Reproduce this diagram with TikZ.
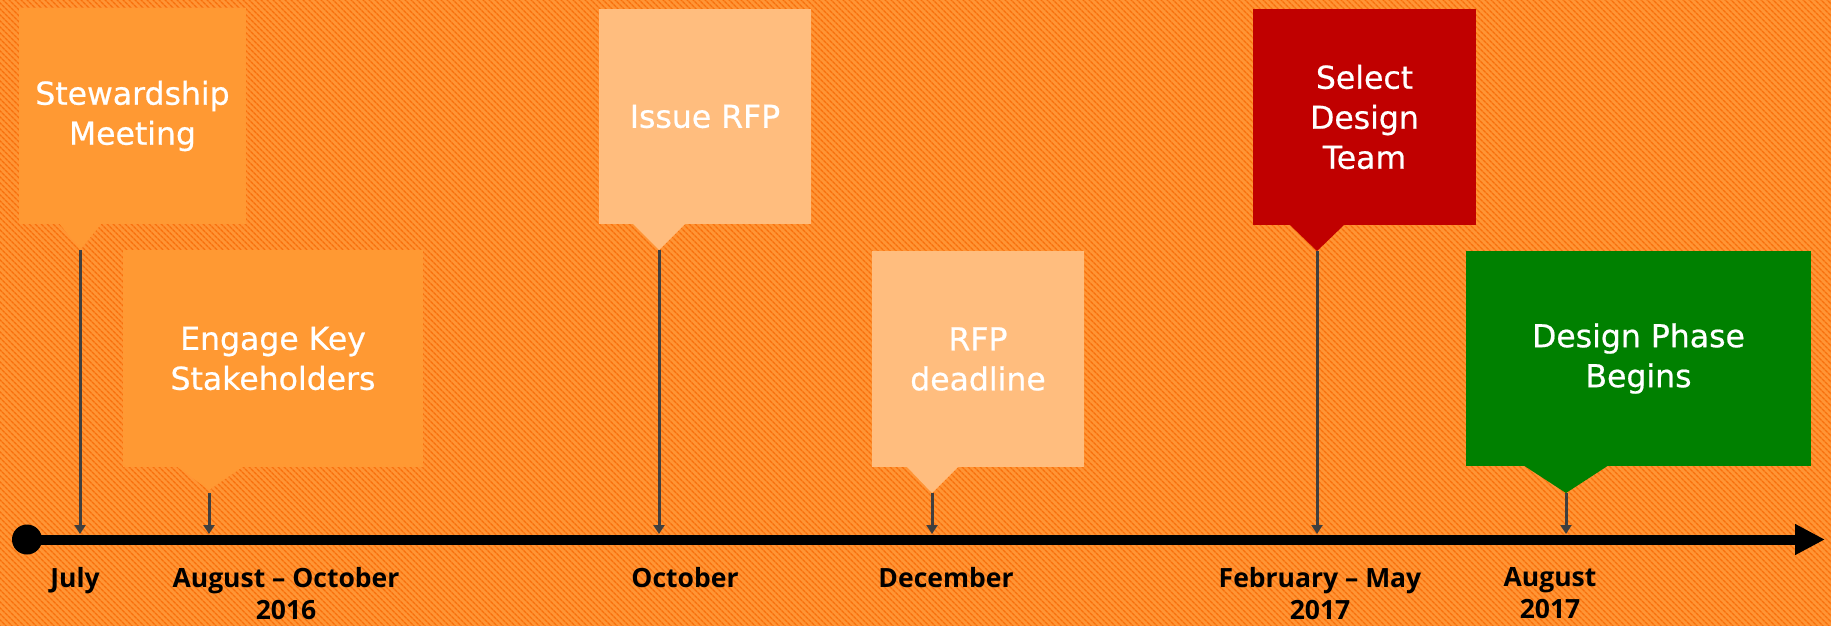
\documentclass[tikz,border=0pt]{standalone}
\usepackage{fontspec}
\newfontfamily\boxfont[FakeBold=0.6]{DejaVu Sans}
\newfontfamily\labfont{Open Sans}
\usetikzlibrary{arrows.meta,patterns.meta}
\definecolor{bgbase}{HTML}{FF9535}
\definecolor{bgstripe}{HTML}{F8700C}
\definecolor{boxorange}{HTML}{FF9933}
\definecolor{boxlight}{HTML}{FFBD7E}
\definecolor{boxred}{HTML}{C00000}
\definecolor{boxgreen}{HTML}{008000}
\definecolor{pin}{HTML}{3F3F3F}
\tikzset{
  callbox/.style={rectangle, inner sep=0pt, outer sep=0pt, text=white, align=center,
    font=\boxfont\fontsize{31.5}{40}\selectfont},
  datelabel/.style={inner sep=0pt, outer sep=0pt, anchor=north, align=center, text=black,
    font=\labfont\bfseries\fontsize{26.5}{32}\selectfont},
  pinarrow/.style={draw=pin, line width=3pt, -{Triangle[width=11pt,length=9pt]}},
  timeline/.style={draw=black, line width=10pt, -{Triangle[width=29pt,length=30pt]}}
}
\begin{document}
\begin{tikzpicture}[x=1pt,y=-1pt]
\useasboundingbox (0,0) rectangle (1831,626);
\fill[bgbase] (0,0) rectangle (1831,626);
\fill[pattern={Lines[angle=-45,distance=4pt,line width=1.5pt]}, pattern color=bgstripe] (0,0) rectangle (1831,626);

% callouts
\node[callbox, fill=boxorange, minimum width=227pt, minimum height=216pt] (b1) at (132.5,116) {Stewardship\\Meeting};
\coordinate (p1) at (80,250);
\fill[boxorange] (p1) -- ++(-21,-27) -- ++(43,0) -- cycle;

\node[callbox, fill=boxorange, minimum width=300pt, minimum height=217pt] (b2) at (273,358.5) {Engage Key\\Stakeholders};
\coordinate (p2) at (209,490);
\fill[boxorange] (p2) -- ++(-33,-24) -- ++(68,0) -- cycle;

\node[callbox, fill=boxlight, minimum width=212pt, minimum height=215pt] (b3) at (705,116.5) {Issue RFP};
\coordinate (p3) at (659,250);
\fill[boxlight] (p3) -- ++(-27,-27) -- ++(54,0) -- cycle;

\node[callbox, fill=boxlight, minimum width=212pt, minimum height=216pt] (b4) at (978,359) {RFP\\deadline};
\coordinate (p4) at (932,493);
\fill[boxlight] (p4) -- ++(-26,-27) -- ++(53,0) -- cycle;

\node[callbox, fill=boxred, minimum width=223pt, minimum height=216pt] (b5) at (1364.5,117) {Select\\Design\\Team};
\coordinate (p5) at (1317,251);
\fill[boxred] (p5) -- ++(-28,-27) -- ++(56,0) -- cycle;

\node[callbox, fill=boxgreen, minimum width=345pt, minimum height=215pt] (b6) at (1638.5,358.5) {Design Phase\\Begins};
\coordinate (p6) at (1566,493);
\fill[boxgreen] (p6) -- ++(-43,-28) -- ++(86,0) -- cycle;

% timeline
\node[circle, fill=black, inner sep=0pt, minimum size=30pt] (start) at (27,539.5) {};
\coordinate (tlend) at (1825,539.5);
\draw[timeline] (start.center) -- (tlend);

% points on the timeline
\coordinate (t1) at (80,534);
\coordinate (t2) at (209,534);
\coordinate (t3) at (659,534);
\coordinate (t4) at (932,534);
\coordinate (t5) at (1317,534);
\coordinate (t6) at (1566,534);

\draw[pinarrow] (p1) -- (t1);
\draw[pinarrow] ([yshift=-3pt]p2) -- (t2);
\draw[pinarrow] (p3) -- (t3);
\draw[pinarrow] (p4) -- (t4);
\draw[pinarrow] (p5) -- (t5);
\draw[pinarrow] (p6) -- (t6);

% date labels
\node[datelabel] (l1) at (75,567) {July};
\node[datelabel] (l2) at (286,567) {August – October\\2016};
\node[datelabel] (l3) at (685,567) {October};
\node[datelabel] (l4) at (946,567) {December};
\node[datelabel] (l5) at (1320,567) {February – May\\2017};
\node[datelabel] (l6) at (1550,567) {August\\2017};
\end{tikzpicture}
\end{document}
